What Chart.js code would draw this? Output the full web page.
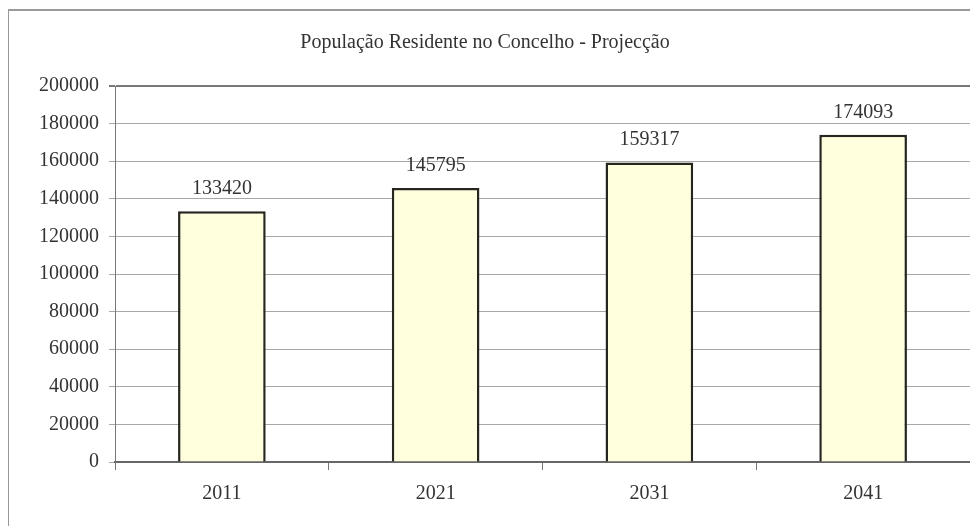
<!DOCTYPE html>
<html>
<head>
<meta charset="utf-8">
<script src="https://cdn.jsdelivr.net/npm/chart.js@4"></script>
<style>
html,body{margin:0;padding:0;background:#fff;}
#wrap{position:relative;width:970px;height:526px;}
#frame{position:absolute;left:8px;top:9px;width:980px;height:540px;border-left:1px solid #999;border-top:2px solid #999;box-sizing:border-box;pointer-events:none;}
</style>
</head>
<body>
<div id="wrap">
<canvas id="c" width="970" height="526"></canvas>
<div id="frame"></div>
</div>
<script>
const categories = ["2011", "2021", "2031", "2041"];
const population = [133420, 145795, 159317, 174093];
const chartTitle = "População Residente no Concelho - Projecção";

const FONT = "'Liberation Serif','Times New Roman',serif";

const valueLabels = {
  id: 'valueLabels',
  afterDatasetsDraw(chart) {
    const ctx = chart.ctx;
    const meta = chart.getDatasetMeta(0);
    ctx.save();
    ctx.font = "20px " + FONT;
    ctx.fillStyle = "#333";
    ctx.textAlign = "center";
    ctx.textBaseline = "alphabetic";
    meta.data.forEach((bar, i) => {
      ctx.fillText(String(population[i]), bar.x, bar.y - 17);
    });
    ctx.restore();
  }
};

new Chart(document.getElementById('c'), {
  type: 'bar',
  data: {
    labels: categories,
    datasets: [{
      data: population,
      backgroundColor: '#FFFFDD',
      borderColor: '#26261e',
      borderWidth: 2.5,
      barPercentage: 0.41,
      categoryPercentage: 1.0
    }]
  },
  options: {
    responsive: false,
    animation: false,
    devicePixelRatio: 1,
    layout: { padding: { left: 0, right: 0, top: 0, bottom: 0 } },
    plugins: {
      legend: { display: false },
      tooltip: { enabled: false },
      title: {
        display: true,
        text: chartTitle,
        color: '#333',
        font: { family: FONT, size: 20, weight: 'normal' },
        padding: { top: 31, bottom: 31 }
      }
    },
    scales: {
      x: {
        offset: true,
        grid: { display: true, drawOnChartArea: false, drawTicks: true, tickLength: 8, color: '#777', offset: true },
        border: { display: true, color: '#666', width: 2 },
        ticks: { color: '#333', font: { family: FONT, size: 20 }, padding: 12 },
        afterFit(scale) { scale.height = 64; }
      },
      y: {
        min: 0,
        max: 200000,
        ticks: {
          stepSize: 20000, color: '#333', font: { family: FONT, size: 20 }, padding: 10,
          callback: (v) => String(v)
        },
        grid: {
          color: (c) => (c.tick && c.tick.value === 200000 ? '#777' : '#a8a8a8'),
          lineWidth: (c) => (c.tick && c.tick.value === 200000 ? 2 : 1),
          drawTicks: true, tickLength: 6
        },
        border: { display: true, color: '#777', width: 1 },
        afterFit(scale) { scale.width = 115; }
      }
    }
  },
  plugins: [valueLabels]
});
</script>
</body>
</html>
